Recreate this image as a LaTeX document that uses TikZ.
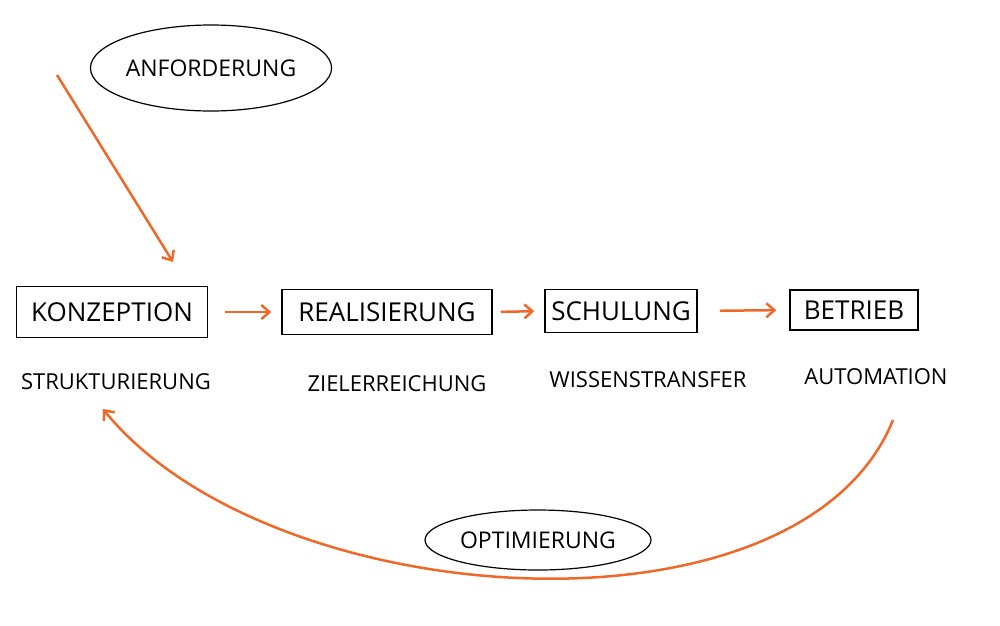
\documentclass[tikz,border=0pt]{standalone}
\usepackage{fontspec}
\setmainfont{Open Sans}
\usepackage{tikz}
\usetikzlibrary{shapes.geometric, arrows.meta}
\definecolor{penorange}{RGB}{240,104,40}

\begin{document}
\begin{tikzpicture}[x=1pt, y=-1pt,
		box/.style={draw, line width=1.5pt, text centered, inner sep=0pt, font=\fontsize{26}{30}\selectfont},
		lbl/.style={font=\fontsize{22}{26}\selectfont},
		bubble/.style={draw, ellipse, line width=1.2pt, inner sep=0pt, font=\fontsize{23}{27}\selectfont},
		flow/.style={-{Straight Barb[length=8pt, width=14pt]}, draw=penorange, line width=2.5pt}]
					\useasboundingbox (0,0) rectangle (1000,625);
					\node[box, minimum width=191pt, minimum height=51pt] (konzeption) at (112,312) {KONZEPTION};
					\node[box, minimum width=210pt, minimum height=45pt] (realisierung) at (387,312) {REALISIERUNG};
					\node[box, minimum width=152pt, minimum height=43pt] (schulung) at (621,311) {SCHULUNG};
					\node[box, minimum width=128pt, minimum height=40pt] (betrieb) at (854,310) {BETRIEB};
					\node[lbl] (strukturierung) at (116,382) {STRUKTURIERUNG};
					\node[lbl] (zielerreichung) at (397,384) {ZIELERREICHUNG};
					\node[lbl] (wissenstransfer) at (648,380) {WISSENSTRANSFER};
					\node[lbl] (automation) at (876,377) {AUTOMATION};
					\node[bubble, minimum width=217pt, minimum height=86pt] (anforderung) at (211,68) {ANFORDERUNG};
					\node[bubble, minimum width=226pt, minimum height=60pt] (optimierung) at (538,540) {OPTIMIERUNG};
					\coordinate (anfStart) at (57,75);
					\coordinate (anfEnd) at (173,262);
					\coordinate (optStart) at (893,420);
					\coordinate (optEnd) at (103,409);
					\draw[flow] (anfStart) -- (anfEnd);
					\draw[flow, shorten <=17pt, shorten >=10pt] (konzeption.east) -- (realisierung.west);
					\draw[flow, shorten <=8pt, shorten >=10pt] (realisierung.east) -- (schulung.west);
					\draw[flow, shorten <=22pt, shorten >=13pt] (schulung.east) -- (betrieb.west);
					\draw[flow] (optStart) .. controls (800,650) and (270,615) .. (optEnd);
				\end{tikzpicture}
\end{document}
